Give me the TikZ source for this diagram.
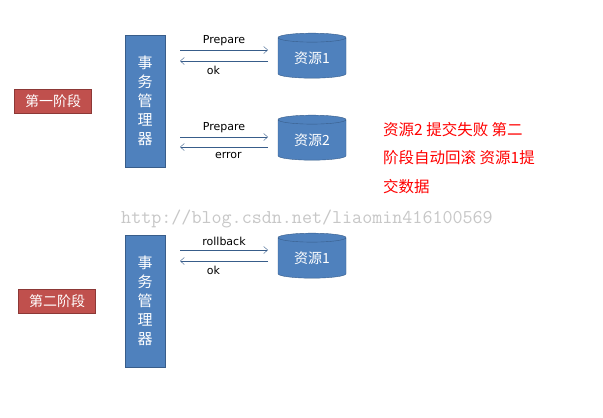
\documentclass[tikz,border=0pt]{standalone}
\usepackage{fontspec}
\setmainfont{DejaVu Sans}
\newfontfamily\cjk{Noto Sans CJK SC}
\usetikzlibrary{shapes.geometric,arrows.meta}
\definecolor{boxblue}{HTML}{4F81BD}
\definecolor{edgeblue}{HTML}{385D8A}
\definecolor{phasered}{HTML}{C0504D}
\definecolor{phaseedge}{HTML}{8C3836}
\tikzset{
  manager/.style={draw=edgeblue, fill=boxblue, minimum width=40pt, minimum height=132pt, text=white, font=\cjk\fontsize{15}{19}\selectfont, align=center, inner sep=0pt},
  resource/.style={cylinder, shape border rotate=90, aspect=0.25, draw=edgeblue, fill=boxblue, minimum width=68pt, minimum height=45pt, text=white, font=\cjk\fontsize{14}{16}\selectfont, inner sep=0pt},
  phase/.style={draw=phaseedge, fill=phasered, text=white, font=\cjk\fontsize{14}{16}\selectfont, minimum width=77pt, minimum height=24pt, inner sep=0pt},
  msg/.style={draw=edgeblue, -{Straight Barb[length=4pt,width=7pt]}},
  lbl/.style={font=\fontsize{11}{13}\selectfont}
}
\begin{document}
\begin{tikzpicture}[x=1pt,y=-1pt]
  \useasboundingbox[fill=white] (0,0) rectangle (603,418);

  % first phase
  \node[phase] (phaseA) at (53,101) {第一阶段};
  \node[manager] (tmA) at (145,101) {事\\务\\管\\理\\器};
  \node[resource] (resA) at (312,58) {资源1};
  \node[resource] (resB) at (312,140) {资源2};
  \coordinate (a1) at (180,50); \coordinate (a2) at (268,50);
  \coordinate (a3) at (268,61); \coordinate (a4) at (180,61);
  \draw[msg] (a1) -- (a2) node[lbl, midway, above=1pt] {Prepare};
  \draw[msg] (a3) -- (a4) node[lbl, pos=0.62, below=2pt] {ok};
  \coordinate (b1) at (180,137); \coordinate (b2) at (268,137);
  \coordinate (b3) at (268,147); \coordinate (b4) at (180,147);
  \draw[msg] (b1) -- (b2) node[lbl, midway, above=1pt] {Prepare};
  \draw[msg] (b3) -- (b4) node[lbl, pos=0.45, below=2pt] {error};

  % note
  \node[anchor=north west, text=red, font=\cjk\fontsize{15.5}{28.5}\selectfont, align=left, inner sep=0pt] (note) at (383,122)
    {资源2 提交失败 第二\\阶段自动回滚 资源1提\\交数据};
  \node[text=black!22, font=\ttfamily\fontsize{19.5}{21}\selectfont, inner sep=0pt] (mark) at (307,219)
    {http://blog.csdn.net/liaomin416100569};

  % second phase
  \node[phase] (phaseB) at (57,301) {第二阶段};
  \node[manager] (tmB) at (145,301) {事\\务\\管\\理\\器};
  \node[resource] (resC) at (312,258) {资源1};
  \coordinate (c1) at (180,250); \coordinate (c2) at (268,250);
  \coordinate (c3) at (268,261); \coordinate (c4) at (180,261);
  \draw[msg] (c1) -- (c2) node[lbl, midway, above=1pt] {rollback};
  \draw[msg] (c3) -- (c4) node[lbl, pos=0.62, below=2pt] {ok};
\end{tikzpicture}
\end{document}
